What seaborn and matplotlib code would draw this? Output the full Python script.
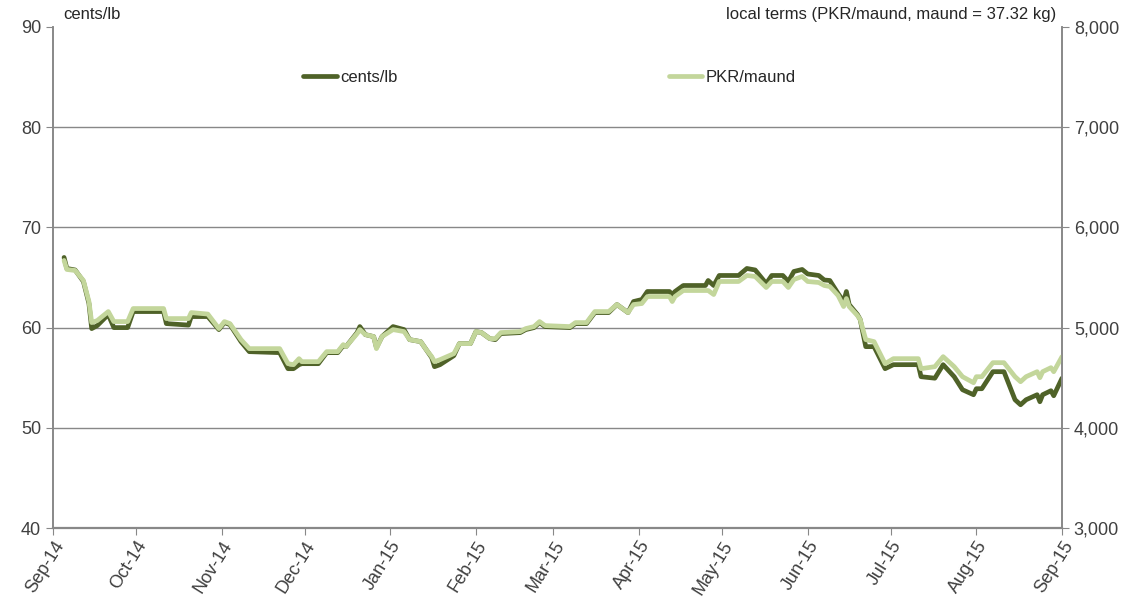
import numpy as np
import pandas as pd
import matplotlib
matplotlib.use('Agg')
import matplotlib.pyplot as plt
from matplotlib.ticker import FuncFormatter
import seaborn as sns

# Data
dates = [
    '2014-09-05', '2014-09-06', '2014-09-09', '2014-09-12', '2014-09-14', '2014-09-15',
    '2014-09-17', '2014-09-21', '2014-09-23', '2014-09-28', '2014-09-30', '2014-10-11',
    '2014-10-12', '2014-10-20', '2014-10-21', '2014-10-27', '2014-10-31', '2014-11-02',
    '2014-11-04', '2014-11-08', '2014-11-11', '2014-11-22', '2014-11-25', '2014-11-27',
    '2014-11-29', '2014-11-30', '2014-12-06', '2014-12-09', '2014-12-13', '2014-12-15',
    '2014-12-16', '2014-12-20', '2014-12-21', '2014-12-23', '2014-12-26', '2014-12-27',
    '2014-12-29', '2015-01-02', '2015-01-06', '2015-01-08', '2015-01-12', '2015-01-14',
    '2015-01-16', '2015-01-17', '2015-01-19', '2015-01-24', '2015-01-26', '2015-01-30',
    '2015-02-01', '2015-02-03', '2015-02-06', '2015-02-08', '2015-02-10', '2015-02-17',
    '2015-02-19', '2015-02-22', '2015-02-24', '2015-02-26', '2015-03-07', '2015-03-09',
    '2015-03-13', '2015-03-16', '2015-03-21', '2015-03-24', '2015-03-28', '2015-03-30',
    '2015-04-02', '2015-04-04', '2015-04-12', '2015-04-13', '2015-04-14', '2015-04-17',
    '2015-04-25', '2015-04-26', '2015-04-28', '2015-04-30', '2015-05-07', '2015-05-10',
    '2015-05-13', '2015-05-17', '2015-05-19', '2015-05-23', '2015-05-25', '2015-05-27',
    '2015-05-30', '2015-06-01', '2015-06-05', '2015-06-07', '2015-06-09', '2015-06-12',
    '2015-06-14', '2015-06-15', '2015-06-16', '2015-06-19', '2015-06-20', '2015-06-22',
    '2015-06-25', '2015-06-29', '2015-07-02', '2015-07-11', '2015-07-12', '2015-07-17',
    '2015-07-20', '2015-07-24', '2015-07-27', '2015-07-31', '2015-08-01', '2015-08-03',
    '2015-08-07', '2015-08-11', '2015-08-15', '2015-08-17', '2015-08-19', '2015-08-23',
    '2015-08-24', '2015-08-25', '2015-08-28', '2015-08-29', '2015-09-01',
]

cents_lb = [
    67.0, 65.9, 65.75, 64.6, 62.4, 59.9, 60.2, 61.3, 60.0, 60.0, 61.6, 61.6,
    60.4, 60.25, 61.1, 61.1, 59.8, 60.5, 60.3, 58.6, 57.6, 57.5, 55.9, 55.9,
    56.3, 56.4, 56.4, 57.5, 57.5, 58.2, 58.1, 59.5, 60.1, 59.3, 59.1, 58.0,
    59.1, 60.1, 59.8, 58.8, 58.6, 57.8, 57.0, 56.1, 56.3, 57.2, 58.4, 58.4,
    59.6, 59.5, 58.9, 58.8, 59.4, 59.5, 59.8, 60.0, 60.5, 60.1, 60.0, 60.4,
    60.4, 61.5, 61.5, 62.3, 61.5, 62.6, 62.8, 63.6, 63.6, 63.3, 63.6, 64.2,
    64.2, 64.7, 64.2, 65.2, 65.2, 65.9, 65.75, 64.4, 65.2, 65.2, 64.6, 65.6,
    65.8, 65.35, 65.2, 64.75, 64.7, 63.4, 62.6, 63.6, 62.3, 61.3, 60.8, 58.1,
    58.1, 55.9, 56.3, 56.3, 55.1, 54.95, 56.3, 55.1, 53.8, 53.3, 53.9, 53.9,
    55.6, 55.6, 52.8, 52.3, 52.8, 53.3, 52.6, 53.3, 53.7, 53.2, 54.95,
]

pkr_maund = [
    5670, 5580, 5570, 5470, 5260, 5050, 5070, 5160, 5060, 5060, 5190, 5190,
    5090, 5090, 5150, 5135, 4990, 5060, 5040, 4880, 4790, 4790, 4640, 4630,
    4690, 4660, 4660, 4760, 4760, 4830, 4810, 4940, 4980, 4930, 4910, 4790,
    4910, 4980, 4960, 4880, 4860, 4780, 4710, 4660, 4680, 4740, 4840, 4840,
    4960, 4950, 4890, 4890, 4950, 4960, 4990, 5010, 5060, 5020, 5010, 5050,
    5050, 5160, 5160, 5230, 5150, 5230, 5240, 5310, 5310, 5260, 5310, 5370,
    5370, 5370, 5330, 5460, 5460, 5520, 5510, 5400, 5460, 5460, 5400, 5480,
    5510, 5460, 5450, 5420, 5410, 5320, 5210, 5290, 5210, 5120, 5080, 4880,
    4860, 4640, 4690, 4690, 4590, 4610, 4710, 4610, 4510, 4450, 4510, 4510,
    4650, 4650, 4510, 4460, 4510, 4560, 4500, 4560, 4600, 4560, 4710,
]

month_labels = ['Sep-14', 'Oct-14', 'Nov-14', 'Dec-14', 'Jan-15', 'Feb-15', 'Mar-15',
                'Apr-15', 'May-15', 'Jun-15', 'Jul-15', 'Aug-15', 'Sep-15']

df = pd.DataFrame({'date': pd.to_datetime(dates), 'cents': cents_lb, 'pkr': pkr_maund})

sns.set_style('white')
plt.rcParams['font.family'] = ['Liberation Sans', 'DejaVu Sans']

dark = '#4f6228'
light = '#c3d69b'
grey = '#888888'

fig = plt.figure(figsize=(11.35, 5.99), dpi=100)
ax = fig.add_axes([0.0467, 0.1185, 0.889, 0.8365])
ax2 = ax.twinx()

sns.lineplot(data=df, x='date', y='cents', ax=ax, color=dark, linewidth=3.4,
             label='cents/lb', legend=False)
sns.lineplot(data=df, x='date', y='pkr', ax=ax2, color=light, linewidth=3.4,
             label='PKR/maund', legend=False)

ax.set_ylim(40, 90)
ax.set_yticks(np.arange(40, 91, 10))
ax2.set_ylim(3000, 8000)
ax2.set_yticks(np.arange(3000, 8001, 1000))
ax2.yaxis.set_major_formatter(FuncFormatter(lambda v, p: f'{int(v):,}'))

ticks = pd.date_range('2014-09-01', '2015-09-01', freq='MS')
ax.set_xlim(ticks[0], ticks[-1])
ax.set_xticks(ticks)
ax.set_xticklabels(month_labels, rotation=58, ha='right', rotation_mode='anchor')

ax.set_xlabel('')
ax.set_ylabel('')
ax2.set_ylabel('')

ax.grid(axis='y', color=grey, linewidth=1)
ax.grid(axis='x', visible=False)
ax.get_ygridlines()[-1].set_visible(False)

for a in (ax, ax2):
    a.spines['top'].set_visible(False)
    for s in ('left', 'right', 'bottom'):
        a.spines[s].set_color(grey)
        a.spines[s].set_linewidth(1.2)
ax.spines['bottom'].set_linewidth(1.6)

ax.tick_params(axis='y', direction='out', length=5, color=grey, labelsize=13,
               labelcolor='#404040', left=True)
ax.tick_params(axis='x', direction='out', length=5, color=grey, labelsize=13,
               labelcolor='#404040', bottom=True, pad=2)
ax2.tick_params(axis='y', direction='out', length=5, color=grey, labelsize=13,
                labelcolor='#404040', right=True)

fig.text(0.056, 0.975, 'cents/lb', fontsize=12, ha='left', va='center')
fig.text(0.931, 0.975, 'local terms (PKR/maund, maund = 37.32 kg)', fontsize=12,
         ha='right', va='center')

h1, l1 = ax.get_legend_handles_labels()
h2, l2 = ax2.get_legend_handles_labels()
ax.legend(h1 + h2, l1 + l2, loc='center', bbox_to_anchor=(0.492, 0.9), ncol=2,
          frameon=False, fontsize=12, handlelength=2.0, handletextpad=0.2,
          columnspacing=16.3)

fig.savefig('out.png', dpi=100)
